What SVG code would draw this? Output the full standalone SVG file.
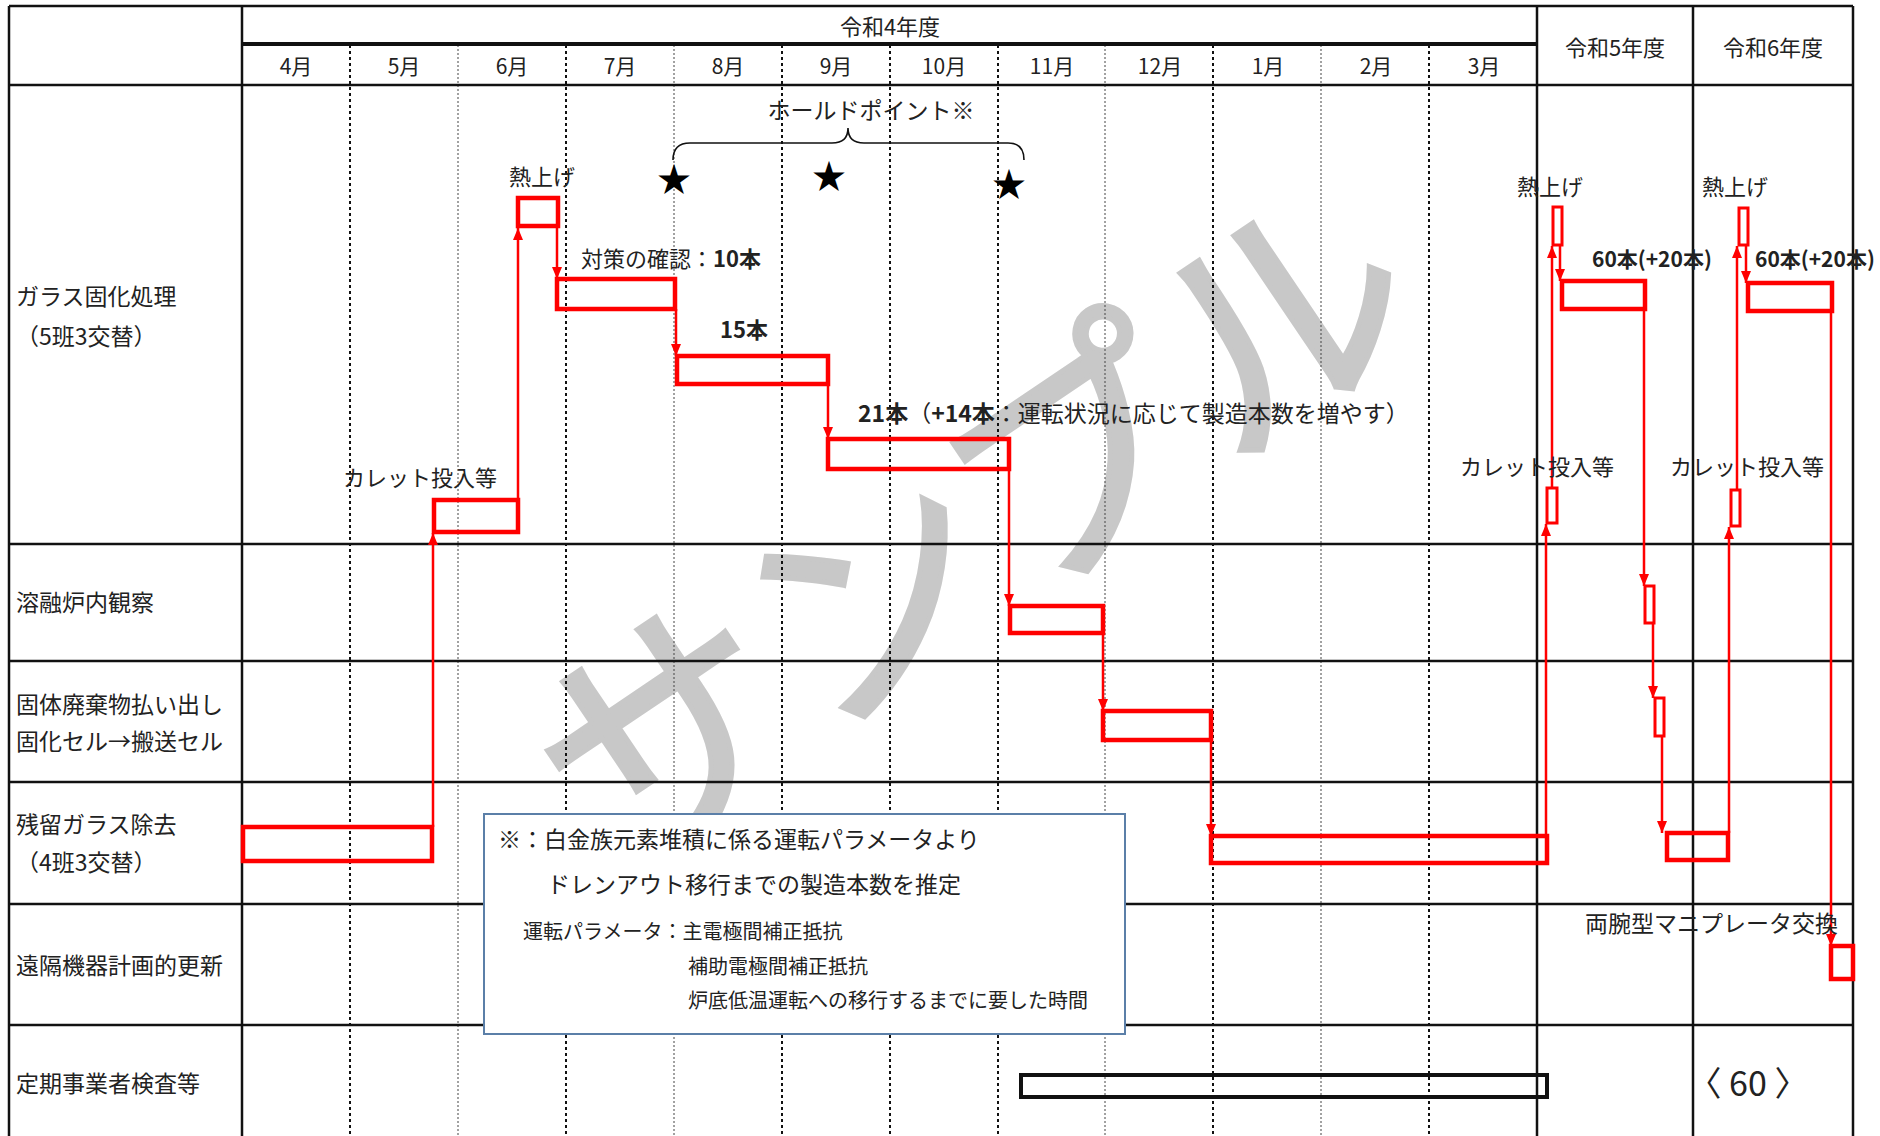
<svg xmlns="http://www.w3.org/2000/svg" width="1880" height="1136" viewBox="0 0 1880 1136">
<defs>
<marker id="ar" viewBox="0 0 12 10" refX="12" refY="5" markerWidth="12" markerHeight="10" markerUnits="userSpaceOnUse" orient="auto">
<path d="M0,0 L12,5 L0,10 z" fill="#ff0000"/>
</marker>
<style>
.t{font-family:"Noto Sans CJK JP","Noto Sans",sans-serif;fill:#222;dominant-baseline:central}
.lab{font-size:23px}
.ann{font-size:22px}
.sm{font-size:20px}
.mon{font-size:21px;text-anchor:middle}
.hd{font-size:22px;text-anchor:middle}
.b{font-weight:700}
.wm{font-family:"Noto Sans CJK JP",sans-serif;font-size:250px;fill:#c8c8c8;stroke:#c8c8c8;stroke-width:5;text-anchor:middle;dominant-baseline:central}
.grid{stroke:#111;stroke-width:2.5;fill:none}
.thick{stroke:#111;stroke-width:4;fill:none}
.dA{stroke:#111;stroke-width:2;stroke-dasharray:3 3;fill:none}
.dB{stroke:#444;stroke-width:1;stroke-dasharray:2 2;fill:none}
.bar{fill:none;stroke:#ff0000;stroke-width:4.5}
.nbar{fill:none;stroke:#ff0000;stroke-width:3}
.con{fill:none;stroke:#ff0000;stroke-width:2.5;marker-end:url(#ar)}
.star{font-family:"Noto Sans CJK JP","DejaVu Sans",sans-serif;font-size:34px;fill:#000;text-anchor:middle;dominant-baseline:central}
</style>
</defs>
<rect x="0" y="0" width="1880" height="1136" fill="#fff"/>

<text id="watermark" class="wm" x="965" y="512" transform="rotate(-34 965 512)">サンプル</text>

<g id="grid">
<path class="dA" d="M350,45V1136 M566,45V1136 M782,45V1136 M890,45V1136 M998,45V1136 M1213,45V1136 M1429,45V1136"/>
<path class="dB" d="M458,45V1136 M674,45V1136 M1105,45V1136 M1321,45V1136"/>
<path class="grid" d="M9,6H1853 M9,6V1136 M242,6V1136 M1537,6V1136 M1693,6V1136 M1853,6V1136 M9,85H1853 M9,544H1853 M9,661H1853 M9,782H1853 M9,904H1853 M9,1025H1853"/>
<path class="thick" d="M242,44H1537"/>
</g>

<g id="header">
<text class="t hd" x="890" y="25">令和4年度</text>
<text class="t hd" x="1615" y="46">令和5年度</text>
<text class="t hd" x="1773" y="46">令和6年度</text>
<text class="t mon" x="296" y="65">4月</text>
<text class="t mon" x="404" y="65">5月</text>
<text class="t mon" x="512" y="65">6月</text>
<text class="t mon" x="620" y="65">7月</text>
<text class="t mon" x="728" y="65">8月</text>
<text class="t mon" x="836" y="65">9月</text>
<text class="t mon" x="944" y="65">10月</text>
<text class="t mon" x="1052" y="65">11月</text>
<text class="t mon" x="1160" y="65">12月</text>
<text class="t mon" x="1268" y="65">1月</text>
<text class="t mon" x="1376" y="65">2月</text>
<text class="t mon" x="1484" y="65">3月</text>
</g>

<g id="row-labels">
<text class="t lab" x="16" y="295">ガラス固化処理</text>
<text class="t lab" x="16" y="335">（5班3交替）</text>
<text class="t lab" x="16" y="601">溶融炉内観察</text>
<text class="t lab" x="16" y="703">固体廃棄物払い出し</text>
<text class="t lab" x="16" y="740">固化セル→搬送セル</text>
<text class="t lab" x="16" y="823">残留ガラス除去</text>
<text class="t lab" x="16" y="861">（4班3交替）</text>
<text class="t lab" x="16" y="964">遠隔機器計画的更新</text>
<text class="t lab" x="16" y="1082">定期事業者検査等</text>
</g>

<g id="holdpoint">
<text class="t" font-size="23" x="871" y="109" text-anchor="middle">ホールドポイント※</text>
<path d="M673,160 Q673,143 690,143 H832 Q848,143 848,128 Q848,143 864,143 H1008 Q1024,143 1024,160" fill="none" stroke="#111" stroke-width="1.6"/>
<text class="star" x="674" y="177">★</text>
<text class="star" x="829" y="174">★</text>
<text class="star" x="1009" y="182">★</text>
</g>

<g id="bars">
<rect id="b-zanryu1" class="bar" x="243" y="827" width="189" height="34"/>
<rect id="b-cullet1" class="bar" x="434" y="500" width="84" height="32"/>
<rect id="b-netsu1" class="bar" x="518" y="198" width="40" height="28"/>
<rect id="b-taisaku" class="bar" x="557" y="279" width="118" height="30"/>
<rect id="b-15" class="bar" x="677" y="356" width="151" height="28"/>
<rect id="b-21" class="bar" x="828" y="439" width="181" height="30"/>
<rect id="b-youyu" class="bar" x="1010" y="606" width="93" height="27"/>
<rect id="b-kotai" class="bar" x="1103" y="711" width="108" height="29"/>
<rect id="b-zanryu2" class="bar" x="1211" y="836" width="336" height="27"/>
<rect id="b-cullet5" class="nbar" x="1547" y="488" width="10" height="35"/>
<rect id="b-netsu5" class="nbar" x="1553" y="207" width="9" height="38"/>
<rect id="b-60-5" class="bar" x="1562" y="281" width="83" height="28"/>
<rect id="b-s1" class="nbar" x="1645" y="586" width="9" height="37"/>
<rect id="b-s2" class="nbar" x="1655" y="698" width="9" height="38"/>
<rect id="b-zanryu3" class="bar" x="1667" y="833" width="61" height="27"/>
<rect id="b-cullet6" class="nbar" x="1731" y="490" width="9" height="36"/>
<rect id="b-netsu6" class="nbar" x="1739" y="208" width="9" height="37"/>
<rect id="b-60-6" class="bar" x="1748" y="283" width="84" height="28"/>
<rect id="b-enkaku" class="bar" x="1831" y="946" width="22" height="33"/>
<rect id="b-teiki" x="1021" y="1075" width="526" height="22" fill="none" stroke="#111" stroke-width="4"/>
</g>

<g id="connectors">
<path class="con" d="M433,827V533"/>
<path class="con" d="M518,500V228"/>
<path class="con" d="M557,226V279"/>
<path class="con" d="M676,309V356"/>
<path class="con" d="M828,384V439"/>
<path class="con" d="M1009,469V606"/>
<path class="con" d="M1103,633V711"/>
<path class="con" d="M1211,740V836"/>
<path class="con" d="M1546,836V524"/>
<path class="con" d="M1552,488V246"/>
<path class="con" d="M1560,245V281"/>
<path class="con" d="M1644,309V586"/>
<path class="con" d="M1653,623V698"/>
<path class="con" d="M1662,736V833"/>
<path class="con" d="M1729,833V527"/>
<path class="con" d="M1737,490V246"/>
<path class="con" d="M1746,245V283"/>
<path class="con" d="M1831,311V946"/>
</g>

<g id="annotations">
<text class="t ann" x="542" y="175" text-anchor="middle">熱上げ</text>
<text class="t ann" x="343" y="476">カレット投入等</text>
<text class="t ann" x="581" y="257">対策の確認：<tspan class="b">10本</tspan></text>
<text class="t ann b" x="720" y="328">15本</text>
<text class="t" font-size="23" x="858" y="412"><tspan class="b">21本</tspan>（<tspan class="b">+14本</tspan>：運転状況に応じて製造本数を増やす）</text>
<text class="t ann" x="1550" y="185" text-anchor="middle">熱上げ</text>
<text class="t b" font-size="21" x="1592" y="258">60本(+20本)</text>
<text class="t ann" x="1460" y="465">カレット投入等</text>
<text class="t ann" x="1735" y="185" text-anchor="middle">熱上げ</text>
<text class="t b" font-size="21" x="1755" y="258">60本(+20本)</text>
<text class="t ann" x="1670" y="465">カレット投入等</text>
<text class="t lab" x="1585" y="922">両腕型マニプレータ交換</text>
<text class="t" x="1748" y="1081" font-size="34" text-anchor="middle">〈 60 〉</text>
</g>

<g id="note">
<rect x="484" y="814" width="641" height="220" fill="#fff" stroke="#5b7fa8" stroke-width="2"/>
<text class="t lab" x="498" y="838">※：白金族元素堆積に係る運転パラメータより</text>
<text class="t lab" x="547" y="883">ドレンアウト移行までの製造本数を推定</text>
<text class="t sm" x="523" y="930">運転パラメータ：主電極間補正抵抗</text>
<text class="t sm" x="688" y="965">補助電極間補正抵抗</text>
<text class="t sm" x="688" y="999">炉底低温運転への移行するまでに要した時間</text>
</g>
</svg>
